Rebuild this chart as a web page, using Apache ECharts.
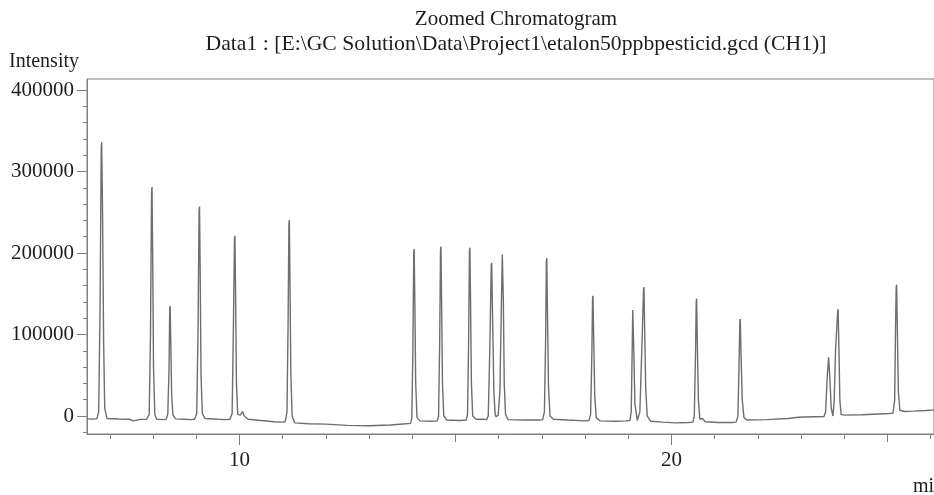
<!DOCTYPE html>
<html>
<head>
    <meta charset="utf-8">
    <title>Zoomed Chromatogram</title>
    <script src="https://cdn.jsdelivr.net/npm/echarts@6/dist/echarts.min.js"></script>
    <style>
        html, body {margin: 0; padding: 0; background: #fff;}
        #chart {width: 934px; height: 495px;}
    </style>
</head>
<body>
<div id="chart"></div>

<script type="text/javascript">

    // retention time (min) of each trace point
    var timeMin = [
        6.47, 6.62, 6.70,
        6.74, 6.77, 6.80, 6.81, 6.83, 6.855, 6.88, 6.93,
        7.2, 7.45, 7.55, 7.7, 7.85,
        7.91, 7.94, 7.965, 7.975, 7.99, 8.01, 8.04, 8.08,
        8.30, 8.34, 8.37, 8.385, 8.395, 8.41, 8.43, 8.46, 8.52,
        8.7, 8.88,
        8.96, 9.01, 9.04, 9.065, 9.075, 9.09, 9.11, 9.14, 9.2,
        9.5, 9.7, 9.78,
        9.83, 9.86, 9.885, 9.895, 9.91, 9.93, 9.96, 10.02, 10.07, 10.11, 10.2,
        10.5, 10.8, 11.0,
        11.06, 11.10, 11.125, 11.145, 11.155, 11.17, 11.19, 11.22, 11.28,
        11.6, 12.0, 12.5, 13.0, 13.5, 13.85,
        13.96, 13.99, 14.015, 14.035, 14.045, 14.06, 14.08, 14.11, 14.18,
        14.45,
        14.58, 14.61, 14.635, 14.655, 14.665, 14.68, 14.70, 14.73, 14.8,
        15.1,
        15.25, 15.28, 15.305, 15.325, 15.335, 15.35, 15.37, 15.40, 15.48, 15.65,
        15.72, 15.76, 15.795, 15.83, 15.84, 15.86, 15.89, 15.92, 15.94,
        15.99, 16.03, 16.065, 16.085, 16.095, 16.11, 16.13, 16.16, 16.22,
        16.6, 16.95,
        17.02, 17.06, 17.09, 17.105, 17.115, 17.13, 17.155, 17.19, 17.27,
        17.6, 18.0,
        18.09, 18.13, 18.16, 18.175, 18.185, 18.20, 18.225, 18.26, 18.35,
        18.7, 18.95,
        19.04, 19.07, 19.095, 19.105, 19.115, 19.13, 19.155, 19.21,
        19.27, 19.32, 19.355, 19.365, 19.38, 19.405, 19.44, 19.52,
        19.8, 20.1, 20.4,
        20.50, 20.53, 20.56, 20.575, 20.585, 20.60, 20.625, 20.66, 20.72, 20.78,
        21.1, 21.4,
        21.50, 21.54, 21.565, 21.585, 21.595, 21.61, 21.64, 21.68, 21.75,
        22.2, 22.7, 22.93, 23.3,
        23.53, 23.57, 23.61, 23.64, 23.65, 23.67, 23.70, 23.74,
        23.77, 23.80, 23.85, 23.86, 23.88, 23.90, 23.93, 24.0,
        24.4, 24.8, 25.05,
        25.13, 25.17, 25.19, 25.205, 25.215, 25.23, 25.255, 25.29,
        25.4, 25.6, 25.9, 26.08
    ];

    // detector intensity at each point
    var intensity = [
        -3500, -3800, -3200,
        5000, 120000, 330000, 336000, 250000, 90000, 10000, -3000,
        -3700, -4000, -6000, -4200, -4000,
        2000, 100000, 275000, 281000, 200000, 60000, 2000, -4000,
        -4500, 2000, 60000, 132000, 135000, 90000, 25000, 1000, -3500,
        -4000, -4500,
        -4000, 3000, 100000, 252000, 257000, 180000, 50000, 3000, -3000,
        -4000, -4500, -4000,
        3000, 110000, 218000, 221000, 150000, 40000, 2000, 1000, 5500, 0, -4000,
        -5500, -7000, -7500,
        -7000, 5000, 110000, 236000, 240500, 160000, 50000, 0, -8500,
        -9500, -10000, -11500, -12000, -11000, -9500,
        -9000, -3000, 80000, 200000, 205000, 140000, 40000, -2000, -6000,
        -6500,
        -6000, 0, 90000, 204000, 208000, 140000, 40000, 0, -5000,
        -5500,
        -5000, 2000, 90000, 203000, 206500, 140000, 40000, 0, -4000, -4000,
        -4500, 0, 80000, 185000, 188000, 120000, 30000, 2000, -1000,
        1000, 30000, 140000, 198000, 200000, 140000, 40000, 2000, -4500,
        -5000, -5000,
        -4500, 5000, 100000, 190000, 193500, 130000, 35000, 0, -4000,
        -5000, -6000,
        -5500, 2000, 80000, 145000, 147500, 100000, 25000, -2000, -6000,
        -6500, -6000,
        -5500, 5000, 90000, 130000, 132000, 80000, 15000, -5500,
        5000, 90000, 155000, 158000, 110000, 35000, 0, -6500,
        -7500, -8500, -8000,
        -7500, 0, 80000, 140000, 144000, 90000, 20000, -4000, -3000, -7000,
        -8000, -8000,
        -7500, 0, 60000, 116000, 119000, 80000, 20000, -2000, -5000,
        -4500, -3000, -1600, -1000,
        -800, 5000, 50000, 72000, 72800, 45000, 10000, 0,
        20000, 80000, 128000, 131000, 80000, 20000, 2000, 1000,
        1500, 2500, 3000,
        3500, 20000, 110000, 158000, 161000, 110000, 30000, 7000,
        5500, 6000, 6800, 7500
    ];

    var xTickLabels = [10, 20];
    var xMidTicks = [15, 25];
    var xMinorTicks = [7, 8, 9, 11, 12, 13, 14, 16, 17, 18, 19, 21, 22, 23, 24, 26];
    var yTickLabels = [0, 100000, 200000, 300000, 400000];
    var yMinorTicks = [-20000, 20000, 40000, 60000, 80000, 120000, 140000, 160000, 180000,
        220000, 240000, 260000, 280000, 320000, 340000, 360000, 380000];

    var serif = 'Liberation Serif';
    var axisColor = '#808080';
    var textColor = '#1e1e1e';

    var traceData = timeMin.map(function (t, i) {
        return [t, intensity[i]];
    });

    function xAxisOf(ticks, len, withLabel) {
        return {
            type: 'value',
            position: 'bottom',
            min: 6.47,
            max: 26.08,
            axisLine: {show: withLabel, onZero: false, lineStyle: {color: axisColor, width: 1}},
            axisTick: {show: true, customValues: ticks, length: len, lineStyle: {color: axisColor}},
            axisLabel: withLabel ? {
                show: true, customValues: ticks, margin: 16,
                fontFamily: serif, fontSize: 21, color: textColor,
                formatter: function (v) { return String(v); }
            } : {show: false},
            splitLine: {show: false}
        };
    }

    function yAxisOf(ticks, len, withLabel) {
        return {
            type: 'value',
            position: 'left',
            min: -22100,
            max: 413500,
            axisLine: {show: withLabel, onZero: false, lineStyle: {color: axisColor, width: 1}},
            axisTick: {show: true, customValues: ticks, length: len, lineStyle: {color: axisColor}},
            axisLabel: withLabel ? {
                show: true, customValues: ticks, margin: 13,
                fontFamily: serif, fontSize: 21, color: textColor,
                formatter: function (v) { return String(v); }
            } : {show: false},
            splitLine: {show: false}
        };
    }

    var myChart = echarts.init(document.getElementById('chart'));

    var option = {
        backgroundColor: '#fff',
        animation: false,
        grid: {
            left: 87, top: 79, right: -2, bottom: 61,
            show: true, borderColor: axisColor, borderWidth: 1
        },
        xAxis: [
            xAxisOf(xTickLabels, 11, true),
            xAxisOf(xMidTicks, 8, false),
            xAxisOf(xMinorTicks, 5, false)
        ],
        yAxis: [
            yAxisOf(yTickLabels, 10, true),
            yAxisOf(yMinorTicks, 4, false)
        ],
        graphic: [
            {type: 'text', x: 516, y: 19, style: {
                text: 'Zoomed Chromatogram', align: 'center', verticalAlign: 'middle',
                fontFamily: serif, fontSize: 21, fill: textColor}},
            {type: 'text', x: 516, y: 44, style: {
                text: 'Data1 : [E:\\GC Solution\\Data\\Project1\\etalon50ppbpesticid.gcd (CH1)]',
                align: 'center', verticalAlign: 'middle',
                fontFamily: serif, fontSize: 21.7, fill: textColor}},
            {type: 'text', x: 9, y: 62, style: {
                text: 'Intensity', verticalAlign: 'middle',
                fontFamily: serif, fontSize: 20, fill: textColor}},
            {type: 'text', x: 913, y: 487, style: {
                text: 'min', verticalAlign: 'middle',
                fontFamily: serif, fontSize: 20, fill: textColor}}
        ],
        series: [{
            name: 'CH1',
            type: 'line',
            xAxisIndex: 0,
            yAxisIndex: 0,
            showSymbol: false,
            lineStyle: {color: '#6e6e6e', width: 1.4},
            data: traceData
        }]
    };

    myChart.setOption(option);
</script>
</body>
</html>
